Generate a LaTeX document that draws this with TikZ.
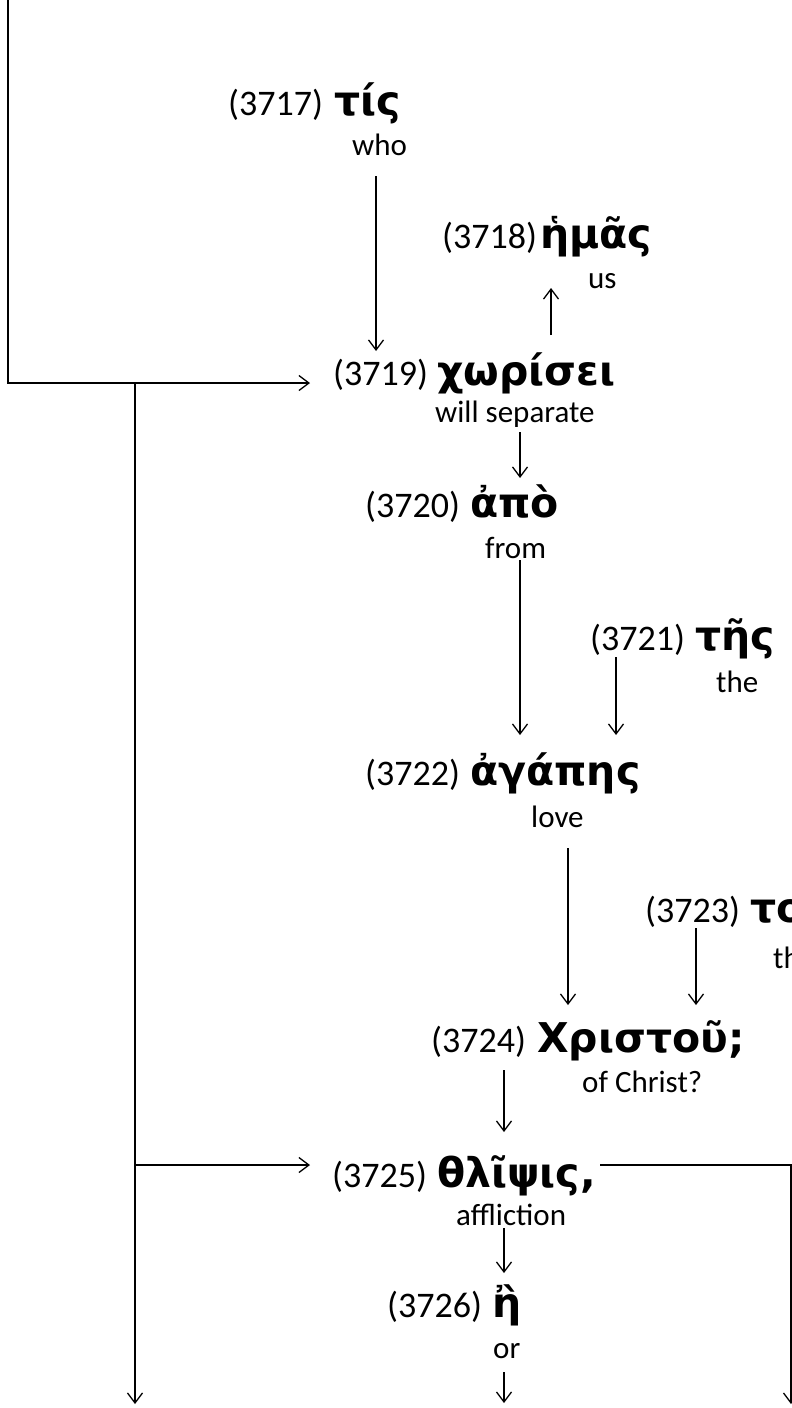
\documentclass[tikz,border=0pt]{standalone}
\usepackage{fontspec}
\setmainfont{Carlito}
\newfontfamily\grfont{DejaVu Sans}
\usetikzlibrary{arrows.meta}
\tikzset{
  num/.style={anchor=base west, inner sep=0pt, font=\fontsize{36}{36}\selectfont},
  grk/.style={anchor=base west, inner sep=0pt, font=\grfont\bfseries\fontsize{41}{41}\selectfont},
  gls/.style={anchor=base west, inner sep=0pt, font=\fontsize{31}{31}\selectfont},
  arr/.style={-{Straight Barb[length=10pt,width=15pt,line width=1.3pt]}, line width=1.3pt},
  ln/.style={line width=1.3pt}
}
\begin{document}
\begin{tikzpicture}[x=1pt,y=-1pt]
\useasboundingbox (0,0) rectangle (792,1408);
\clip (0,0) rectangle (792,1408);

% entries
\node[num] (n3717) at (228,115) {(3717)};
\node[grk] (g3717) at (334,115) {τίς};
\node[gls] (e3717) at (352,155) {who};

\node[num] (n3718) at (442,248) {(3718)};
\node[grk] (g3718) at (540,248) {ἡμᾶς};
\node[gls] (e3718) at (588,288) {us};

\node[num] (n3719) at (333,385) {(3719)};
\node[grk] (g3719) at (437,385) {χωρίσει};
\node[gls] (e3719) at (435,422) {will separate};

\node[num] (n3720) at (365,517) {(3720)};
\node[grk] (g3720) at (470,517) {ἀπὸ};
\node[gls] (e3720) at (485,558) {from};

\node[num] (n3721) at (590,650) {(3721)};
\node[grk] (g3721) at (695,650) {τῆς};
\node[gls] (e3721) at (716,692) {the};

\node[num] (n3722) at (365,785) {(3722)};
\node[grk] (g3722) at (470,785) {ἀγάπης};
\node[gls] (e3722) at (531,827) {love};

\node[num] (n3723) at (645,922) {(3723)};
\node[grk] (g3723) at (750,922) {τοῦ};
\node[gls] (e3723) at (773,968) {the};

\node[num] (n3724) at (431,1052) {(3724)};
\node[grk] (g3724) at (537,1052) {Χριστοῦ;};
\node[gls] (e3724) at (582,1092) {of Christ?};

\node[num] (n3725) at (332,1187) {(3725)};
\node[grk] (g3725) at (437,1187) {θλῖψις,};
\node[gls] (e3725) at (456,1225) {affliction};

\node[num] (n3726) at (387,1317) {(3726)};
\node[grk] (g3726) at (492,1317) {ἢ};
\node[gls] (e3726) at (493,1358) {or};

% connector end points
\coordinate (topL) at (8,0);
\coordinate (cornL) at (8,383);
\coordinate (in3719) at (310,383);
\coordinate (br1) at (135,383);
\coordinate (br2) at (135,1165);
\coordinate (outL) at (135,1404);
\coordinate (in3725) at (310,1165);
\coordinate (out3725) at (600,1165);
\coordinate (cornR) at (791,1165);
\coordinate (outR) at (791,1404);

\coordinate (a1s) at (376,176);  \coordinate (a1e) at (376,351);
\coordinate (a2s) at (551,335);  \coordinate (a2e) at (551,288);
\coordinate (a3s) at (520,432);  \coordinate (a3e) at (520,478);
\coordinate (a4s) at (520,560);  \coordinate (a4e) at (520,735);
\coordinate (a5s) at (616,657);  \coordinate (a5e) at (616,735);
\coordinate (a6s) at (568,848);  \coordinate (a6e) at (568,1005);
\coordinate (a7s) at (696,928);  \coordinate (a7e) at (696,1005);
\coordinate (a8s) at (504,1070); \coordinate (a8e) at (504,1132);
\coordinate (a9s) at (504,1228); \coordinate (a9e) at (504,1273);
\coordinate (a10s) at (504,1372); \coordinate (a10e) at (504,1403);

% connectors
\draw[arr] (topL) -- (cornL) -- (in3719);
\draw[arr] (br1) -- (outL);
\draw[arr] (br2) -- (in3725);
\draw[arr] (out3725) -- (cornR) -- (outR);

\draw[arr] (a1s) -- (a1e);
\draw[arr] (a2s) -- (a2e);
\draw[arr] (a3s) -- (a3e);
\draw[arr] (a4s) -- (a4e);
\draw[arr] (a5s) -- (a5e);
\draw[arr] (a6s) -- (a6e);
\draw[arr] (a7s) -- (a7e);
\draw[arr] (a8s) -- (a8e);
\draw[arr] (a9s) -- (a9e);
\draw[arr] (a10s) -- (a10e);
\end{tikzpicture}
\end{document}
